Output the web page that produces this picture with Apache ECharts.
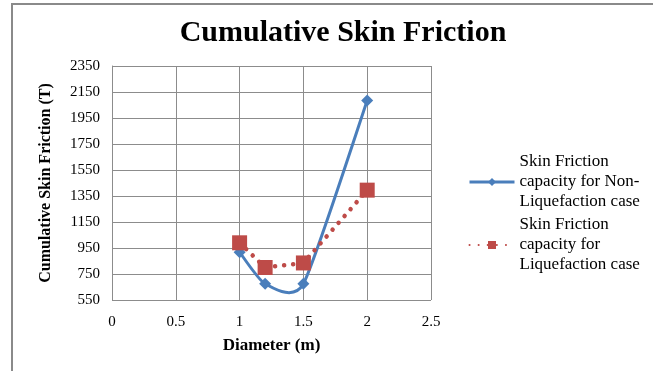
<!DOCTYPE html>
<html>
<head>
<meta charset="utf-8">
<script src="https://cdn.jsdelivr.net/npm/echarts@6/dist/echarts.min.js"></script>
<style>
  html, body { margin: 0; padding: 0; background: #fff; }
  #frame {
    position: absolute; left: 11px; top: 3px; right: 0; bottom: 0;
    border-left: 2px solid #8a8a8a; border-top: 2px solid #8a8a8a;
  }
  #chart { position: absolute; left: 0; top: 0; width: 653px; height: 371px; }
</style>
</head>
<body>
<div id="frame"></div>
<div id="chart"></div>
<script>
const diameters = [1, 1.2, 1.5, 2];
const nonLiqValues = [918, 675, 675, 2085];
const liqValues = [990, 800, 835, 1395];
const xTicks = [0, 0.5, 1, 1.5, 2, 2.5];
const yTicks = [550, 750, 950, 1150, 1350, 1550, 1750, 1950, 2150, 2350];

const serif = "'Liberation Serif', 'DejaVu Serif', serif";
const blue = '#4a7ebb';
const red = '#be4b48';
const nameNonLiq = 'Skin Friction\ncapacity for Non-\nLiquefaction case';
const nameLiq = 'Skin Friction\ncapacity for\nLiquefaction case';

const chart = echarts.init(document.getElementById('chart'));

// excel style smoothed curve (catmull-rom like) through the points
const smoothPath = (pts, k) => {
  let d = `M${pts[0][0]},${pts[0][1]}`;
  for (let i = 0; i < pts.length - 1; i++) {
    const p0 = pts[i - 1] || pts[i];
    const p1 = pts[i];
    const p2 = pts[i + 1];
    const p3 = pts[i + 2] || p2;
    const c1 = [p1[0] + (p2[0] - p0[0]) * k, p1[1] + (p2[1] - p0[1]) * k];
    const c2 = [p2[0] - (p3[0] - p1[0]) * k, p2[1] - (p3[1] - p1[1]) * k];
    d += ` C${c1[0]},${c1[1]} ${c2[0]},${c2[1]} ${p2[0]},${p2[1]}`;
  }
  return d;
};

const option = {
  backgroundColor: 'transparent',
  animation: false,
  textStyle: { fontFamily: serif },
  title: {
    text: 'Cumulative Skin Friction',
    left: 338,
    top: 13,
    textAlign: 'center',
    textStyle: { fontFamily: serif, fontSize: 30, fontWeight: 'bold', color: '#000' },
  },
  grid: { left: 112, right: 222, top: 66, bottom: 71 },
  legend: {
    orient: 'vertical',
    left: 463,
    top: 147,
    itemWidth: 45,
    itemHeight: 10,
    itemGap: 3,
    textStyle: { fontFamily: serif, fontSize: 17, color: '#000', lineHeight: 20 },
    data: [
      { name: nameNonLiq, lineStyle: { color: blue, width: 3, opacity: 1 } },
      { name: nameLiq },
    ],
  },
  xAxis: {
    type: 'value',
    min: xTicks[0],
    max: xTicks[xTicks.length - 1],
    interval: 0.5,
    name: 'Diameter (m)',
    nameLocation: 'middle',
    nameGap: 37,
    nameTextStyle: { fontFamily: serif, fontSize: 17, fontWeight: 'bold', color: '#000' },
    axisLine: { show: false },
    axisTick: { show: false },
    axisLabel: { color: '#000', fontSize: 15, margin: 15, fontFamily: serif, formatter: (v) => String(v) },
    splitLine: { show: true, lineStyle: { color: '#8c8c8c', width: 1 } },
  },
  yAxis: {
    type: 'value',
    min: yTicks[0],
    max: yTicks[yTicks.length - 1],
    interval: 200,
    name: 'Cumulative Skin Friction (T)',
    nameLocation: 'middle',
    nameGap: 58,
    nameTextStyle: { fontFamily: serif, fontSize: 16, fontWeight: 'bold', color: '#000' },
    axisLine: { show: true, lineStyle: { color: '#8c8c8c' } },
    axisTick: { show: false },
    axisLabel: { color: '#000', fontSize: 15, margin: 12, fontFamily: serif, formatter: (v) => String(v) },
    splitLine: { show: true, lineStyle: { color: '#8c8c8c', width: 1 } },
  },
  series: [
    {
      // smoothed curve of the non-liquefaction series
      type: 'custom',
      coordinateSystem: 'cartesian2d',
      silent: true,
      z: 2,
      data: diameters.map((d, i) => [d, nonLiqValues[i]]),
      renderItem: (params, api) => {
        if (params.dataIndex !== 0) return null;
        const pts = diameters.map((d, i) => api.coord([d, nonLiqValues[i]]));
        return {
          type: 'path',
          shape: { pathData: smoothPath(pts, 0.1) },
          style: { stroke: blue, lineWidth: 3, fill: 'none' },
        };
      },
    },
    {
      name: nameNonLiq,
      type: 'line',
      z: 3,
      data: diameters.map((d, i) => [d, nonLiqValues[i]]),
      symbol: 'diamond',
      symbolSize: 12,
      itemStyle: { color: blue },
      lineStyle: { color: blue, width: 3, opacity: 0 },
    },
    {
      name: nameLiq,
      type: 'line',
      z: 4,
      data: diameters.map((d, i) => [d, liqValues[i]]),
      symbol: 'rect',
      symbolSize: 15,
      itemStyle: { color: red },
      lineStyle: { color: red, width: 4.5, type: [0.1, 9], cap: 'round' },
    },
  ],
};

chart.setOption(option);
</script>
</body>
</html>
